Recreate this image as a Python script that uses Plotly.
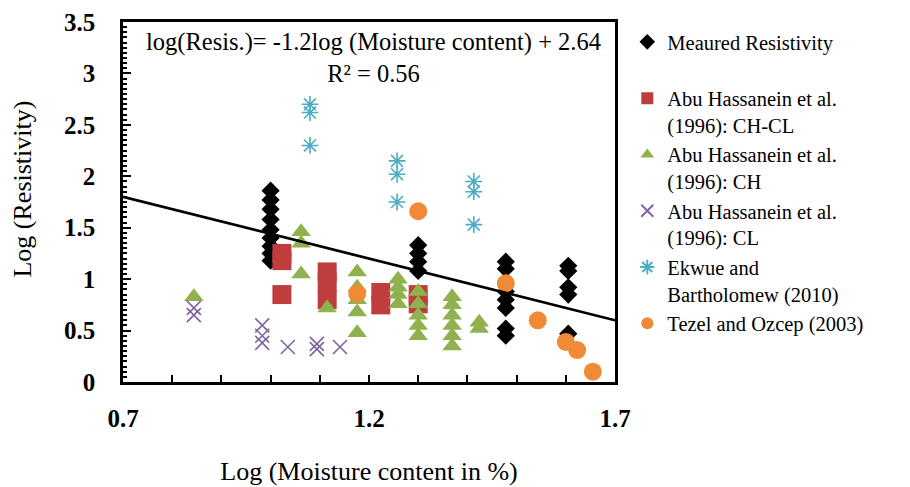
import plotly.graph_objects as go

# ---------------- data ----------------
meas_x = [1.0, 1.0, 1.0, 1.0, 1.0, 1.0, 1.0, 1.0, 1.0,
          1.30, 1.30, 1.30, 1.30,
          1.478, 1.478, 1.478, 1.478, 1.478, 1.478, 1.478,
          1.605, 1.605, 1.605, 1.605, 1.605]
meas_y = [1.86, 1.77, 1.68, 1.58, 1.48, 1.40, 1.32, 1.25, 1.18,
          1.33, 1.25, 1.17, 1.08,
          1.17, 1.10, 0.88, 0.80, 0.72, 0.52, 0.45,
          1.13, 1.08, 0.92, 0.85, 0.47]

chcl_x = [1.023, 1.023, 1.023, 1.115, 1.115, 1.115, 1.224, 1.224, 1.30, 1.30]
chcl_y = [1.25, 1.18, 0.85, 1.07, 0.97, 0.80, 0.87, 0.75, 0.85, 0.76]

ch_x = [0.844, 1.062, 1.062, 1.062, 1.115,
        1.176, 1.176, 1.176, 1.176, 1.176,
        1.259, 1.259, 1.259, 1.259,
        1.30, 1.30, 1.30, 1.30, 1.30,
        1.369, 1.369, 1.369, 1.369, 1.369, 1.369,
        1.424, 1.424]
ch_y = [0.83, 1.46, 1.35, 1.05, 0.72,
        1.07, 0.92, 0.80, 0.68, 0.48,
        1.00, 0.92, 0.85, 0.76,
        0.88, 0.76, 0.65, 0.55, 0.45,
        0.83, 0.75, 0.65, 0.55, 0.45, 0.35,
        0.58, 0.52]

cl_x = [0.844, 0.844, 0.983, 0.983, 0.983, 1.035, 1.094, 1.094, 1.141]
cl_y = [0.72, 0.65, 0.55, 0.45, 0.38, 0.34, 0.37, 0.32, 0.34]

ek_x = [1.08, 1.08, 1.08, 1.257, 1.257, 1.257, 1.413, 1.413, 1.413]
ek_y = [2.70, 2.62, 2.30, 2.15, 2.02, 1.75, 1.95, 1.85, 1.53]

tz_x = [1.176, 1.30, 1.478, 1.543, 1.60, 1.623, 1.655]
tz_y = [0.86, 1.66, 0.96, 0.60, 0.39, 0.31, 0.10]

fit_slope = -1.2
fit_intercept = 2.64
fit_x = [0.7, 1.7]
fit_y = [fit_slope * v + fit_intercept for v in fit_x]

x_tickvals = [0.7, 0.8, 0.9, 1.0, 1.1, 1.2, 1.3, 1.4, 1.5, 1.6, 1.7]
x_ticktext = ["0.7", "", "", "", "", "1.2", "", "", "", "", "1.7"]
y_tickvals = [0, 0.5, 1, 1.5, 2, 2.5, 3, 3.5]
y_ticktext = ["0", "0.5", "1", "1.5", "2", "2.5", "3", "3.5"]

# ---------------- figure ----------------
SERIF = "Liberation Serif, Times New Roman, serif"
fig = go.Figure()

fig.add_trace(go.Scatter(
    x=meas_x, y=meas_y, mode="markers", name="Meaured Resistivity<br>\u00a0",
    marker=dict(symbol="diamond", size=14, color="black", line=dict(width=0))))
fig.add_trace(go.Scatter(
    x=chcl_x, y=chcl_y, mode="markers",
    name="Abu Hassanein et al.<br>(1996): CH-CL",
    marker=dict(symbol="square", size=19, color="#BF3E3D", line=dict(width=0))))
fig.add_trace(go.Scatter(
    x=ch_x, y=ch_y, mode="markers",
    name="Abu Hassanein et al.<br>(1996): CH",
    marker=dict(symbol="triangle-up", size=17, color="#8FB24F", line=dict(width=0))))
fig.add_trace(go.Scatter(
    x=cl_x, y=cl_y, mode="markers",
    name="Abu Hassanein et al.<br>(1996): CL",
    marker=dict(symbol="x-thin-open", size=14, color="#8064A2", line=dict(width=1.6, color="#8064A2"))))
fig.add_trace(go.Scatter(
    x=ek_x, y=ek_y, mode="markers",
    name="Ekwue and<br>Bartholomew (2010)",
    marker=dict(symbol="asterisk-open", size=14, color="#4BACC6", line=dict(width=1.6, color="#4BACC6"))))
fig.add_trace(go.Scatter(
    x=tz_x, y=tz_y, mode="markers",
    name="Tezel and Ozcep (2003)",
    marker=dict(symbol="circle", size=18, color="#F08A36", line=dict(width=0))))
fig.add_trace(go.Scatter(
    x=fit_x, y=fit_y, mode="lines", showlegend=False,
    line=dict(color="black", width=2.7)))

fig.add_annotation(
    x=0.51, y=1.0, xref="paper", yref="paper", xanchor="center", yanchor="top",
    yshift=-4,
    text="log(Resis.)= -1.2log (Moisture content) + 2.64<br>R\u00b2 = 0.56",
    showarrow=False, align="center",
    font=dict(family=SERIF, size=24.5, color="black"))

# y-axis title placed as rotated text
fig.add_annotation(
    x=-0.205, y=0.535, xref="paper", yref="paper", xanchor="center", yanchor="middle",
    text="Log (Resistivity)", textangle=-90, showarrow=False,
    font=dict(family=SERIF, size=26, color="black"))

fig.update_layout(
    template="none",
    width=902, height=479,
    margin=dict(l=115, r=295, t=14, b=105, autoexpand=False),
    paper_bgcolor="white", plot_bgcolor="white",
    font=dict(family=SERIF, color="black"),
    showlegend=True,
    legend=dict(
        x=1.025, y=1.0, xanchor="left", yanchor="top",
        font=dict(family=SERIF, size=20.5, color="black"),
        valign="top", itemwidth=30, itemsizing="constant",
        bgcolor="rgba(0,0,0,0)", borderwidth=0, tracegroupgap=0),
    xaxis=dict(
        range=[0.7, 1.7], showgrid=False, zeroline=False, automargin=False,
        showline=True, linecolor="black", linewidth=2.5, mirror=True,
        tickmode="array", tickvals=x_tickvals, ticktext=x_ticktext,
        ticks="inside", ticklen=7, tickwidth=2, tickcolor="black",
        ticklabelstandoff=12,
        tickfont=dict(family=SERIF, size=25, color="black", weight="bold"),
        title=dict(text="Log (Moisture content in %)", standoff=32,
                   font=dict(family=SERIF, size=26, color="black"))),
    yaxis=dict(
        range=[0, 3.5], showgrid=False, zeroline=False, automargin=False,
        showline=True, linecolor="black", linewidth=2.5, mirror=True,
        tickmode="array", tickvals=y_tickvals, ticktext=y_ticktext,
        ticks="inside", ticklen=8, tickwidth=2, tickcolor="black",
        minor=dict(dtick=0.05, ticks="inside", ticklen=4, tickwidth=1.5, tickcolor="black"),
        ticklabelstandoff=20,
        tickfont=dict(family=SERIF, size=25, color="black", weight="bold")),
)

fig.write_html("out.html")
